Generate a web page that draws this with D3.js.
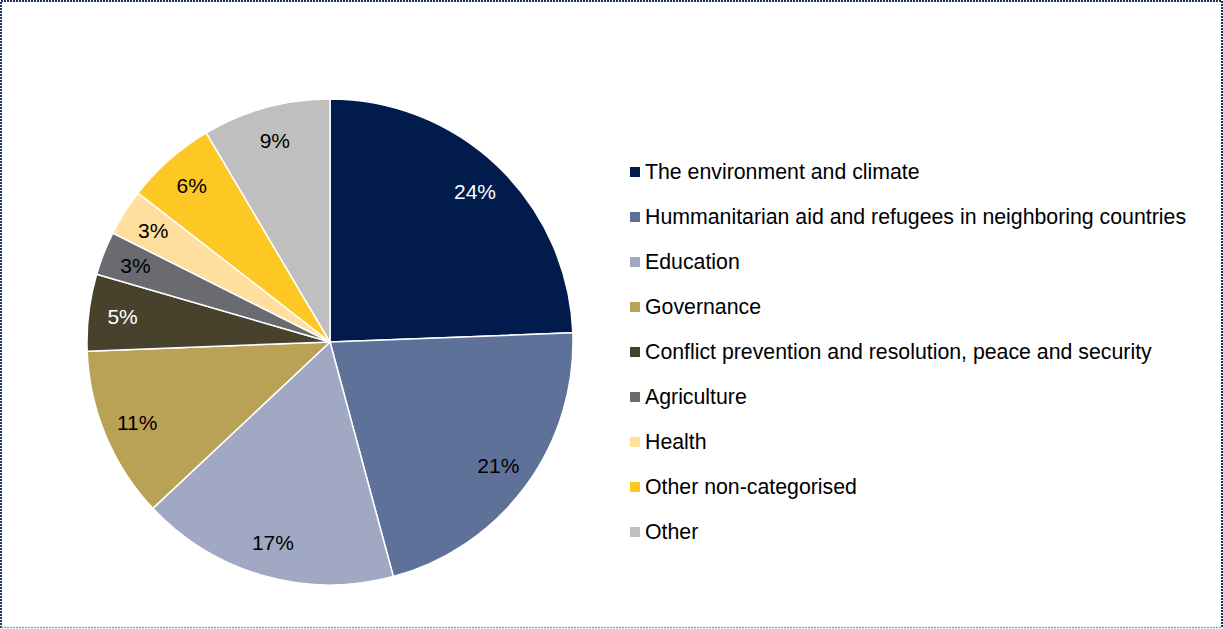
<!DOCTYPE html>
<html>
<head>
<meta charset="utf-8">
<script src="https://cdn.jsdelivr.net/npm/d3@7"></script>
<style>
  body { margin: 0; background: #fff; }
  svg { display: block; font-family: "Liberation Sans", Arial, sans-serif; }
</style>
</head>
<body>
<svg id="chart" width="1223" height="629"></svg>
<script>
// categories, in drawing order (clockwise from 12 o'clock)
const categories = [
  "The environment and climate",
  "Hummanitarian aid and refugees in neighboring countries",
  "Education",
  "Governance",
  "Conflict prevention and resolution, peace and security",
  "Agriculture",
  "Health",
  "Other non-categorised",
  "Other"
];
// shares in percent
const shares = [24.4, 21.4, 17.2, 11.4, 5.1, 2.9, 3.1, 6.0, 8.5];
const colors = ["#001b4c", "#5e7299", "#a0a8c4", "#b9a155", "#48422c",
                "#6a6b70", "#ffde9e", "#fdc724", "#bfbfbf"];
const labelColors = ["#fff", "#000", "#000", "#000", "#fff",
                     "#000", "#000", "#000", "#000"];

const data = categories.map((c, i) => ({name: c, value: shares[i], color: colors[i], labelColor: labelColors[i]}));

const svg = d3.select("#chart");

// dotted frame (bottom edge is lighter in the original)
const frame = svg.append("g")
  .attr("fill", "none")
  .attr("stroke-width", 2)
  .attr("stroke-dasharray", "2,1");
frame.append("path").attr("d", "M1,628 V1 H1222 V628").attr("stroke", "#1f3464");
frame.append("path").attr("d", "M1,627.5 H1222").attr("stroke", "#8a9ab8").attr("stroke-width", 1.5);

const cx = 330, cy = 342, radius = 243;

const pie = d3.pie().sort(null).value(d => d.value);
const arc = d3.arc().innerRadius(0).outerRadius(radius);
const labelArc = d3.arc().innerRadius(209).outerRadius(209);

const g = svg.append("g").attr("transform", `translate(${cx},${cy})`);
const arcs = pie(data);

g.selectAll("path")
  .data(arcs)
  .join("path")
  .attr("d", arc)
  .attr("fill", d => d.data.color)
  .attr("stroke", "#fff")
  .attr("stroke-width", 1.5)
  .attr("stroke-linejoin", "round");

g.selectAll("text")
  .data(arcs)
  .join("text")
  .attr("transform", d => `translate(${labelArc.centroid(d)})`)
  .attr("text-anchor", "middle")
  .attr("dy", "0.35em")
  .attr("font-size", 21)
  .attr("fill", d => d.data.labelColor)
  .text(d => Math.round(d.data.value) + "%");

// legend
const legend = svg.append("g").attr("transform", "translate(630,172)");
const rows = legend.selectAll("g")
  .data(data)
  .join("g")
  .attr("transform", (d, i) => `translate(0,${i * 45})`);

rows.append("rect")
  .attr("x", 0).attr("y", -5)
  .attr("width", 10).attr("height", 10)
  .attr("fill", d => d.color);

rows.append("text")
  .attr("x", 15)
  .attr("dy", "0.35em")
  .attr("font-size", 21.3)
  .attr("fill", "#000")
  .text(d => d.name);
</script>
</body>
</html>
